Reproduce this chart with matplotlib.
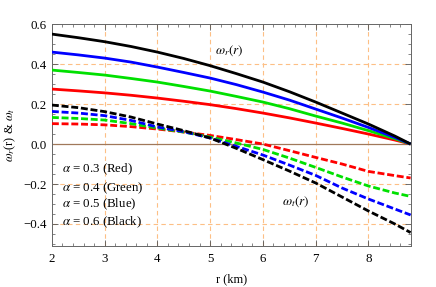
import numpy as np
import matplotlib
matplotlib.use("Agg")
import matplotlib.pyplot as plt
from matplotlib.ticker import MultipleLocator

plt.rcParams['font.family'] = 'Liberation Serif'
plt.rcParams['mathtext.fontset'] = 'stix'

r = [2.0, 2.5, 3.0, 3.5, 4.0, 4.5, 5.0, 5.5, 6.0, 6.5, 7.0, 7.5, 8.0, 8.5, 8.8]

# omega_r (solid)
wr_red = [0.275, 0.266, 0.256, 0.244, 0.230, 0.214, 0.197, 0.177, 0.155, 0.131, 0.105, 0.078, 0.050, 0.020, 0.0]
wr_green = [0.370, 0.358, 0.345, 0.328, 0.310, 0.288, 0.265, 0.238, 0.210, 0.177, 0.140, 0.105, 0.067, 0.027, 0.0]
wr_blue = [0.460, 0.446, 0.430, 0.410, 0.385, 0.358, 0.330, 0.297, 0.260, 0.220, 0.175, 0.130, 0.083, 0.033, 0.0]
wr_black = [0.550, 0.532, 0.512, 0.488, 0.460, 0.428, 0.392, 0.352, 0.310, 0.262, 0.210, 0.155, 0.100, 0.040, 0.0]

# omega_t (dashed)
wt_red = [0.102, 0.100, 0.096, 0.087, 0.075, 0.060, 0.043, 0.022, 0.000, -0.033, -0.067, -0.100, -0.137, -0.158, -0.170]
wt_green = [0.133, 0.128, 0.120, 0.102, 0.080, 0.060, 0.035, 0.005, -0.027, -0.070, -0.117, -0.165, -0.210, -0.245, -0.262]
wt_blue = [0.163, 0.155, 0.142, 0.118, 0.085, 0.062, 0.030, -0.012, -0.055, -0.105, -0.157, -0.220, -0.275, -0.325, -0.355]
wt_black = [0.195, 0.182, 0.162, 0.135, 0.100, 0.067, 0.030, -0.022, -0.078, -0.135, -0.195, -0.265, -0.335, -0.400, -0.443]

colors = ['#ff0000', '#00e000', '#0000ff', '#000000']
alphas = ['0.3 (Red)', '0.4 (Green)', '0.5 (Blue)', '0.6 (Black)']

fig = plt.figure(figsize=(4.36, 2.87), dpi=100)
ax = fig.add_axes([0.119, 0.143, 0.824, 0.773])

for y, c in zip([wr_red, wr_green, wr_blue, wr_black], colors):
    ax.plot(r, y, color=c, lw=2.0, solid_capstyle='butt', zorder=3)
for y, c in zip([wt_red, wt_green, wt_blue, wt_black], colors):
    ax.plot(r, y, color=c, lw=2.0, dashes=(2.5, 1.0), zorder=3)

ax.axhline(0, color='#a0785a', lw=0.9, zorder=2)

ax.set_xlim(2, 8.81)
ax.set_ylim(-0.51, 0.6)
ax.set_xticks([2, 3, 4, 5, 6, 7, 8])
ax.set_yticks([-0.4, -0.2, 0.0, 0.2, 0.4, 0.6])
ax.set_yticklabels(['\u22120.4', '\u22120.2', '0.0', '0.2', '0.4', '0.6'])
ax.xaxis.set_minor_locator(MultipleLocator(0.2))
ax.yaxis.set_minor_locator(MultipleLocator(0.05))
ax.tick_params(which='both', direction='in', top=True, right=True, color='#555555', labelsize=9.3)
ax.tick_params(which='major', length=4, width=0.6)
ax.tick_params(axis='x', pad=5)
ax.tick_params(which='minor', length=2, width=0.5)
for s in ax.spines.values():
    s.set_color('#666666')
    s.set_linewidth(0.7)

for gx in [3, 4, 5, 6, 7, 8]:
    ax.axvline(gx, color='#fdbf85', lw=0.8, ls=(0, (4, 3)), zorder=1)
for gy in [-0.4, -0.2, 0.2, 0.4]:
    ax.axhline(gy, color='#fdbf85', lw=0.8, ls=(0, (4, 3)), zorder=1)

ax.text(5.36, 0.467, r'$\omega_r(r)$', fontsize=9.5, ha='center', va='center')
ax.text(6.62, -0.29, r'$\omega_t(r)$', fontsize=9.5, ha='center', va='center')

for lab, yy in zip(alphas, [-0.125, -0.22, -0.30, -0.39]):
    ax.text(2.19, yy, r'$\alpha$ = ' + lab, fontsize=9.3, ha='left', va='center')

ax.set_xlabel('r (km)', fontsize=9, labelpad=6)
ax.set_ylabel(r'$\omega_r$(r) & $\omega_t$', fontsize=9, labelpad=4)

fig.savefig('out.png', dpi=100)
